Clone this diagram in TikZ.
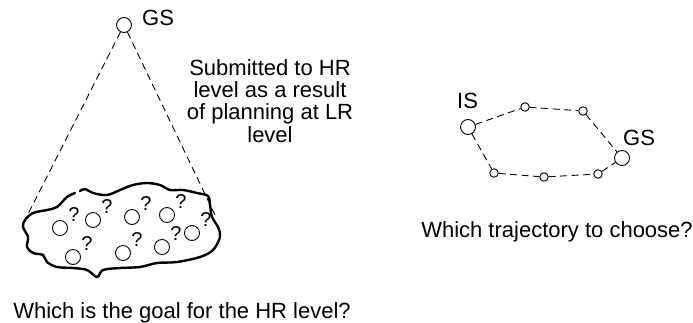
\documentclass[tikz,border=0pt]{standalone}
\usepackage{fontspec}
\setmainfont{Liberation Sans}
\usetikzlibrary{calc}
\begin{document}
\begin{tikzpicture}[x=1pt,y=-1pt,
  state/.style={circle,draw,line width=0.9pt,inner sep=0pt,minimum size=15pt},
  waypoint/.style={circle,draw,line width=0.9pt,inner sep=0pt,minimum size=8.5pt},
  label/.style={font=\fontsize{22}{22.4}\selectfont,inner sep=0pt},
  qmark/.style={font=\fontsize{20}{22}\selectfont,inner sep=0pt},
  link/.style={dash pattern=on 7pt off 4.5pt,line width=0.9pt}]
\useasboundingbox (0,0) rectangle (693,322);

% goal state on top and its cone onto the region
\node[state] (top) at (124,25) {};
\node[label,anchor=base west] at (142,25) {GS};
\coordinate (coneL) at (25,220);
\coordinate (coneR) at (215,215);
\draw[link] (top) -- (coneL);
\draw[link] (top) -- (coneR);

\node[label,align=center,anchor=north] at (270,59)
  {Submitted to HR\\level as a result\\of planning at LR\\level};

% region of candidate goals
\draw[line width=2.4pt,line join=round,line cap=round]
  plot[smooth,tension=0.55] coordinates {
   (80,191) (85,189) (93,193) (107,195) (120,190) (133,185) (147,183)
   (160,185) (170,190) (183,190) (197,193) (208,196) (210,205) (212,217)
   (218,227) (220,237) (213,250) (200,257) (177,262) (157,263) (140,267)
   (120,268) (103,270) (97,277) (87,270) (73,268) (57,267) (47,262)
   (43,255) (33,253) (27,247) (28,237) (23,227) (25,220) (33,213)
   (47,210) (57,207) (67,197) (75,193)};

\foreach \n/\x/\y in {a/60/228, b/93/220, c/132/217, d/167/215, e/192/233,
                      f/73/257, g/123/253, h/162/247} {
  \node[state] (cand\n) at (\x,\y) {};
  \node[qmark] at ($(\x,\y)+(14,-13)$) {?};
}

\node[label,anchor=base] at (182,318) {Which is the goal for the HR level?};

% alternative trajectories from IS to GS
\node[state] (is) at (468,127) {};
\node[label,anchor=base west] at (457,108) {IS};
\node[state] (gs) at (622,158) {};
\node[label,anchor=base west] at (623,145) {GS};
\node[waypoint] (u1) at (525,107) {};
\node[waypoint] (u2) at (583,111) {};
\node[waypoint] (l1) at (494,173) {};
\node[waypoint] (l2) at (544,177) {};
\node[waypoint] (l3) at (598,174) {};
\draw[link] (is) -- (u1) -- (u2) -- (gs);
\draw[link] (is) -- (l1) -- (l2) -- (l3) -- (gs);

\node[label,anchor=base] at (557,237) {Which trajectory to choose?};
\end{tikzpicture}
\end{document}
